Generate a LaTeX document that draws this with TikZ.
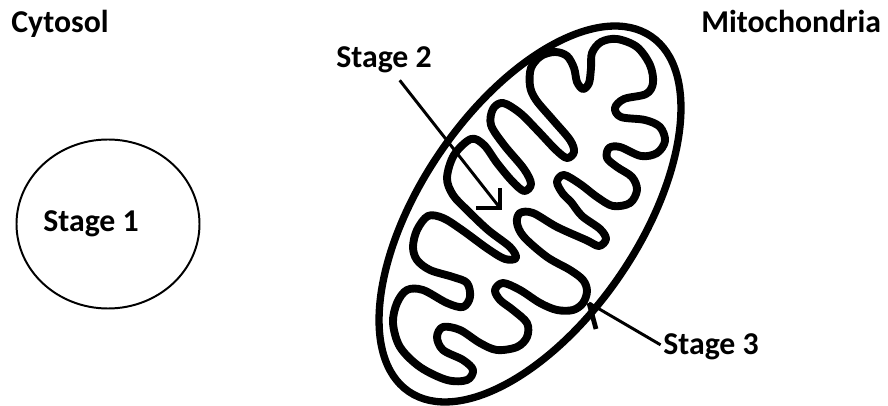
\documentclass[tikz,border=0pt]{standalone}
\usepackage{fontspec}
\setmainfont{Carlito}

\begin{document}
\begin{tikzpicture}[x=0.025cm, y=-0.025cm]
	% Define styles
	\tikzstyle{every node}=[font=\fontsize{22.6}{27}\selectfont\bfseries, inner sep=0pt, anchor=base west]
	\tikzstyle{membrane}=[line width=5.6pt, line join=round]
	\tikzstyle{pointer}=[line width=2.1pt]
	\tikzstyle{barb}=[line width=3.4pt, line cap=butt]
	
	\useasboundingbox (0,0) rectangle (888,406);
	
	% labels
	\node (cytosol) at (11,33) {Cytosol};
	\node (mitolabel) at (701,33) {Mitochondria};
	\node (stage1) at (43,232) {Stage 1};
	\node (stage2) at (336,68) {Stage 2};
	\node (stage3) at (663,354) {Stage 3};
	
	% cell
	\draw[line width=1.4pt] (108,224) ellipse [x radius=91.5, y radius=84.5];
	
	% outer membrane
	\draw[line width=5.2pt, rotate around={55.7:(530,214)}] (530,214) ellipse [x radius=215, y radius=109];
	
	% inner membrane with the cristae
	\draw[membrane] plot[smooth cycle, tension=0.55] coordinates {
		(530,86) (531,68) (541,56) (555,52) (567,56) (574,68) (577,82) (583,89)
		(589,83) (591,68) (592,53) (601,42) (617,39) (637,47) (650,65) (653,83)
		(646,94) (624,99) (615,108) (621,117) (645,120) (660,127) (665,141) (657,153)
		(641,156) (620,147) (609,148) (607,158) (617,167) (632,177) (637,190) (630,203)
		(613,206) (597,197) (580,184) (564,175) (557,182) (563,194) (571,202) (582,216)
		(600,229) (606,239) (599,246) (586,240) (557,227) (533,213) (520,213) (517,223)
		(524,237) (547,257) (570,270) (583,280) (587,291) (583,303) (573,310) (557,310)
		(540,303) (520,290) (503,283) (495,290) (500,300) (513,310) (527,323) (527,337)
		(517,347) (497,350) (480,343) (460,330) (443,327) (437,337) (443,350) (463,360)
		(473,370) (467,380) (447,380) (420,367) (400,347) (393,323) (397,303) (407,290)
		(423,290) (447,303) (463,307) (470,297) (467,283) (453,277) (430,270) (417,260)
		(413,247) (417,230) (428,216) (443,218) (462,230) (488,249) (505,259) (516,258)
		(510,247) (488,230) (467,210) (453,195) (447,178) (454,155) (471,139) (484,145)
		(497,163) (512,181) (524,191) (531,184) (524,169) (504,145) (491,125) (493,109)
		(503,103) (520,113) (538,131) (556,150) (567,158) (574,152) (570,140) (553,120)
		(536,100)
	};
	
	% arrow tips
	\coordinate (tip2) at (500,208);
	\coordinate (tip3) at (589,303);
	
	\draw[pointer, shorten <=6pt] (stage2) -- (tip2);
	\draw[barb] (tip2) ++(-24,0) -- (tip2) -- ++(0,-20);
	
	\draw[pointer, shorten <=2pt] (stage3.west) -- (tip3);
	\draw[barb] (tip3) -- ++(7,26);
\end{tikzpicture}
\end{document}
